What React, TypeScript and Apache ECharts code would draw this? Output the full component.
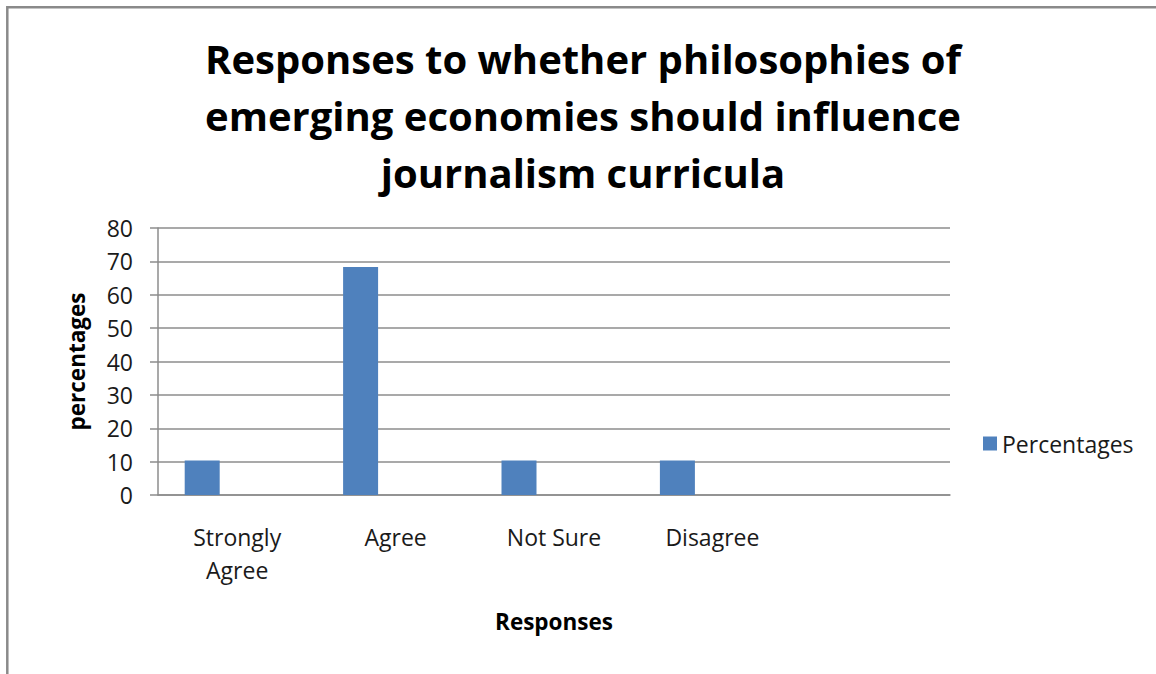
import React, { useEffect, useRef } from "react";
import * as echarts from "echarts";

const titleLines = [
  "Responses to whether philosophies of",
  "emerging economies should influence",
  "journalism curricula",
];
const categories = ["Strongly\nAgree", "Agree", "Not Sure", "Disagree", ""];
const percentages = [10.3, 68.3, 10.3, 10.3, null];
const emptySeries = [null, null, null, null, null];
const yTicks = { min: 0, max: 80, interval: 10 };
const seriesName = "Percentages";
const xAxisName = "Responses";
const yAxisName = "percentages";

const FONT = "'Open Sans', Lato, sans-serif";

export default function App() {
  const ref = useRef<HTMLDivElement>(null);
  useEffect(() => {
    if (!ref.current) return;
    const chart = echarts.init(ref.current, undefined, { renderer: "svg" });
    chart.setOption({
      animation: false,
      backgroundColor: "#ffffff",
      textStyle: { fontFamily: FONT },
      title: {
        text: titleLines.join("\n"),
        left: 578,
        textAlign: "center",
        top: 25,
        textStyle: {
          fontFamily: FONT,
          fontSize: 40,
          fontWeight: "bold",
          color: "#000000",
          lineHeight: 57,
        },
      },
      graphic: [
        {
          type: "rect",
          shape: { x: 7.3, y: 7.3, width: 1300, height: 800 },
          style: { fill: "none", stroke: "#8a8a8a", lineWidth: 2.5 },
          silent: true,
        },
      ],
      legend: {
        data: [seriesName],
        left: 978,
        top: 427,
        icon: "rect",
        itemWidth: 14,
        itemHeight: 14,
        itemGap: 8,
        textStyle: { fontFamily: FONT, fontSize: 23, color: "#1a1a1a" },
      },
      grid: { left: 158, top: 228, width: 792, height: 267, containLabel: false },
      xAxis: {
        type: "category",
        data: categories,
        name: xAxisName,
        nameLocation: "middle",
        nameGap: 115,
        nameTextStyle: { fontFamily: FONT, fontSize: 22.5, fontWeight: "bold", color: "#000" },
        axisLine: { show: true, lineStyle: { color: "#8c8c8c", width: 1.5 } },
        axisTick: { show: false },
        axisLabel: {
          interval: 0,
          margin: 25,
          fontFamily: FONT,
          fontSize: 23,
          lineHeight: 33,
          color: "#1a1a1a",
        },
      },
      yAxis: {
        type: "value",
        min: yTicks.min,
        max: yTicks.max,
        interval: yTicks.interval,
        name: yAxisName,
        nameLocation: "middle",
        nameRotate: 90,
        nameGap: 70,
        nameTextStyle: { fontFamily: FONT, fontSize: 22.5, fontWeight: "bold", color: "#000" },
        axisLine: { show: true, lineStyle: { color: "#8c8c8c", width: 1.5 } },
        axisTick: { show: true, length: 8, lineStyle: { color: "#8c8c8c", width: 1.5 } },
        splitLine: { show: true, lineStyle: { color: "#8c8c8c", width: 1.5 } },
        axisLabel: { margin: 25, fontFamily: FONT, fontSize: 23, color: "#1a1a1a" },
      },
      series: [
        {
          name: seriesName,
          type: "bar",
          data: percentages,
          barWidth: 35,
          barGap: "0%",
          itemStyle: { color: "#4F81BD" },
        },
        { name: "s2", type: "bar", data: emptySeries, barWidth: 35, barGap: "0%" },
        { name: "s3", type: "bar", data: emptySeries, barWidth: 35, barGap: "0%" },
      ],
    });
    return () => chart.dispose();
  }, []);
  return (
    <div
      ref={ref}
      style={{ position: "fixed", left: 0, top: 0, width: 1156, height: 674 }}
    />
  );
}
